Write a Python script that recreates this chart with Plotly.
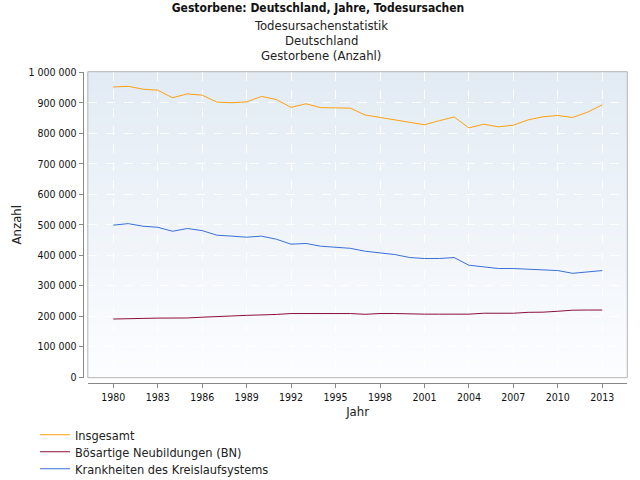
import base64, struct, zlib
import plotly.graph_objects as go

# ---------------- data ----------------
years = list(range(1980, 2014))
insgesamt = [952371, 954563, 945243, 941829, 917000, 929649, 925426, 902686, 900627, 903441,
             921445, 911245, 885443, 897270, 884661, 884588, 882843, 860389, 852382, 846330,
             838797, 828541, 841686, 853946, 818271, 830227, 821627, 827155, 844439, 854544,
             858768, 852328, 869582, 893825]
neubildungen = [191000, 191000, 193000, 194000, 194000, 194500, 197000, 200000, 201000, 203000,
                203500, 206000, 209000, 209500, 209500, 209500, 209000, 206500, 209000, 209000,
                207000, 207000, 207000, 207000, 207000, 210000, 210000, 210000, 213000, 213500,
                216500, 220000, 220500, 220500]
kreislauf = [499000, 504000, 495600, 492000, 479000, 488000, 481000, 466000, 463000, 459500,
             463000, 453000, 436500, 439000, 430000, 426600, 423000, 413500, 409000, 402600,
             392800, 389500, 389500, 392800, 367600, 363000, 356700, 356700, 354400, 354000,
             350000, 341000, 345600, 350000]
series_names = ["Insgesamt", "Bösartige Neubildungen (BN)", "Krankheiten des Kreislaufsystems"]
series_colors = ["#ff9f0f", "#8b0f3a", "#3a6fd8"]
tick_years = list(range(1980, 2014, 3))
y_ticks = list(range(0, 1000001, 100000))
title_text = "Gestorbene: Deutschland, Jahre, Todesursachen"
subtitle_lines = ["Todesursachenstatistik", "Deutschland", "Gestorbene (Anzahl)"]

W, H = 640, 480
def px(x): return x / W
def py(y): return 1 - y / H

# plot area in pixels
L, R, T, B = 87.8, 627.3, 71.7, 377.7

# ------------- gradient background image -------------
def gradient_png(top, bottom, h=128):
    raw = b""
    for i in range(h):
        t = i / (h - 1)
        c = bytes(int(round(top[k] + (bottom[k] - top[k]) * t)) for k in range(3))
        raw += b"\x00" + c
    def chunk(tag, data):
        return struct.pack(">I", len(data)) + tag + data + struct.pack(">I", zlib.crc32(tag + data) & 0xffffffff)
    png = b"\x89PNG\r\n\x1a\n"
    png += chunk(b"IHDR", struct.pack(">IIBBBBB", 1, h, 8, 2, 0, 0, 0))
    png += chunk(b"IDAT", zlib.compress(raw))
    png += chunk(b"IEND", b"")
    return "data:image/png;base64," + base64.b64encode(png).decode()

bg_src = gradient_png((226, 235, 244), (252, 253, 255))

FONT = "DejaVu Sans Condensed"

fig = go.Figure()
legend_ids = ["legend", "legend2", "legend3"]
for name, vals, col, lg in zip(series_names, [insgesamt, neubildungen, kreislauf], series_colors, legend_ids):
    fig.add_trace(go.Scatter(x=years, y=vals, mode="lines", name=name, legend=lg,
                             line=dict(color=col, width=1)))

legend_style = dict(xanchor="left", yanchor="middle", orientation="v",
                    bgcolor="rgba(0,0,0,0)", font=dict(family=FONT, size=12.7, color="#222222"),
                    itemwidth=30)
legend_y = [435, 452, 469]

annotations = [dict(text=t, xref="paper", yref="paper", x=px(321), y=py(yy),
                    xanchor="center", yanchor="middle", showarrow=False,
                    font=dict(family=FONT, size=13, color="#222222"))
               for t, yy in zip(subtitle_lines, [25, 40, 55])]

fig.update_layout(
    width=W, height=H,
    template="none",
    margin=dict(l=0, r=0, t=0, b=0, autoexpand=False),
    paper_bgcolor="white",
    plot_bgcolor="rgba(0,0,0,0)",
    separators=", ",
    font=dict(family=FONT, size=12, color="#222222"),
    title=dict(text="<b>" + title_text + "</b>",
               x=px(318), xanchor="center", y=py(8), yanchor="middle",
               font=dict(family=FONT, size=12, color="#111111")),
    annotations=annotations,
    xaxis=dict(domain=[px(L), px(R)], range=[1978.28, 2014.69], anchor="free", position=py(383.3),
               tickmode="array", tickvals=tick_years, ticks="outside", ticklen=4,
               tickcolor="#888888", showline=True, linecolor="#888888", linewidth=1,
               showgrid=True, gridcolor="white", griddash="dash", gridwidth=1, zeroline=False,
               tickfont=dict(family=FONT, size=10.5, color="#111111"), automargin=False,
               title=dict(text="Jahr", standoff=4, font=dict(family=FONT, size=13))),
    yaxis=dict(domain=[py(B), py(T)], range=[-1500, 1002500], anchor="free", position=px(82.7),
               tickmode="array", tickvals=y_ticks, tickformat=",d", ticks="outside", ticklen=4,
               tickcolor="#888888", showline=True, linecolor="#888888", linewidth=1,
               showgrid=True, gridcolor="white", griddash="dash", gridwidth=1, zeroline=False,
               tickfont=dict(family=FONT, size=10.5, color="#111111"), automargin=False,
               title=dict(text="Anzahl", standoff=2, font=dict(family=FONT, size=13))),
    images=[dict(source=bg_src, xref="paper", yref="paper", x=px(L), y=py(T),
                 sizex=px(R) - px(L), sizey=py(T) - py(B), sizing="stretch",
                 xanchor="left", yanchor="top", layer="below")],
    shapes=[dict(type="rect", xref="paper", yref="paper", x0=px(L), x1=px(R), y0=py(B), y1=py(T),
                 line=dict(color="#b4b4b4", width=1), fillcolor="rgba(0,0,0,0)", layer="above")],
    showlegend=True,
    legend=dict(x=px(35), y=py(legend_y[0]), **legend_style),
    legend2=dict(x=px(35), y=py(legend_y[1]), **legend_style),
    legend3=dict(x=px(35), y=py(legend_y[2]), **legend_style),
)

fig.write_html("out.html", config={"displayModeBar": False},
               post_script="document.body.style.margin='0';document.body.style.overflow='hidden';")
